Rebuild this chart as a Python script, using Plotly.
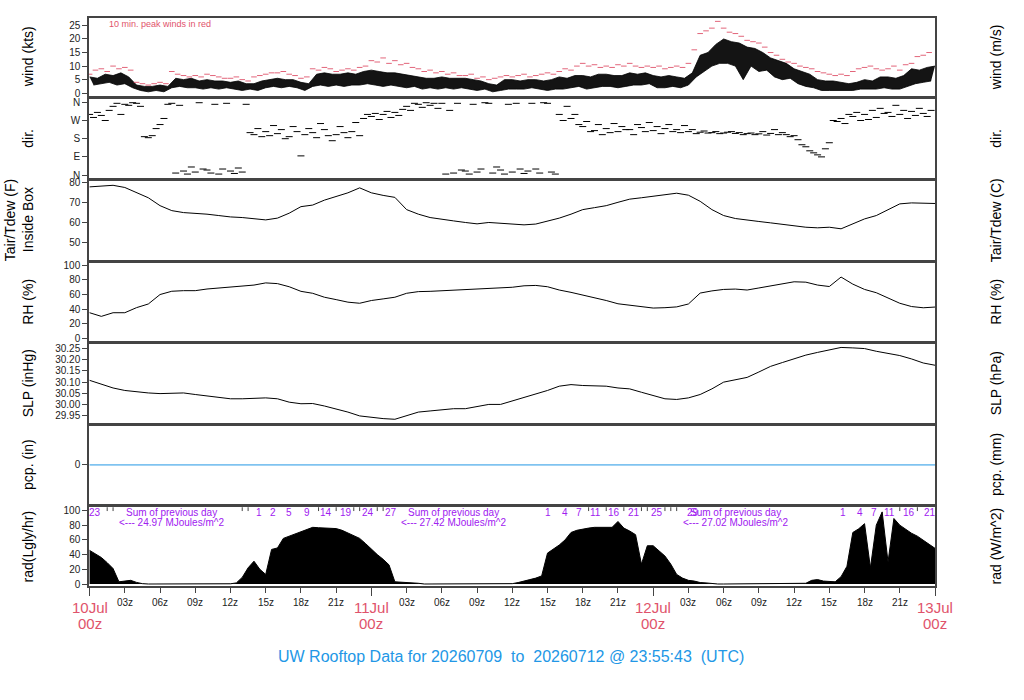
import plotly.graph_objects as go

W, H = 1024, 700
FONT = "Liberation Sans, Arial, Helvetica, sans-serif"
PINK = "#DF536B"
PURPLE = "#A020F0"
BLUE = "#2297E6"
FRAME = "#444444"

# ---------------- data (hours since 10 Jul 00z) ----------------
hours = list(range(73))

wind_kts = [6.0, 3.0, 5.5, 3.5, 7.0, 4.0, 6.5, 3.0, 7.5, 3.5, 6.0, 2.0,
            3.0, 1.0, 2.5, 0.5, 2.5, 1.0, 3.0, 0.5, 2.5, 2.0, 5.5, 2.5,
            5.0, 2.0, 5.5, 2.0, 4.5, 1.5, 5.0, 2.0, 4.5, 1.5, 4.5, 2.0,
            4.0, 1.5, 4.5, 1.0, 3.5, 1.5, 3.5, 1.0, 4.5, 2.0, 5.0, 2.5,
            5.5, 2.0, 5.0, 2.5, 5.0, 2.0, 4.0, 1.0, 3.5, 2.5, 7.0, 3.0,
            7.5, 2.5, 7.0, 3.0, 7.0, 2.5, 7.5, 3.0, 7.0, 3.0, 8.0, 3.5,
            8.5, 3.0, 8.0, 2.5, 7.5, 3.0, 7.5, 2.5, 7.0, 2.0, 6.5, 2.5,
            6.0, 1.5, 5.5, 2.0, 5.5, 1.5, 6.0, 2.0, 5.5, 1.5, 5.5, 2.0,
            5.5, 1.5, 5.0, 1.0, 4.5, 1.5, 3.5, 0.5, 3.0, 1.0, 5.0, 1.5,
            5.0, 1.5, 4.5, 1.5, 5.0, 2.0, 5.0, 1.5, 4.5, 1.0, 5.0, 1.5,
            6.0, 1.5, 5.5, 2.0, 6.5, 2.5, 6.5, 1.5, 6.0, 2.0, 7.0, 2.5,
            7.0, 2.5, 6.5, 2.0, 6.5, 2.5, 7.5, 3.0, 7.0, 3.0, 7.5, 3.5,
            6.5, 2.0, 6.0, 2.0, 6.5, 2.5, 6.0, 2.0, 5.5, 3.0, 7.5, 6.0,
            14.0, 8.0, 15.0, 10.0, 18.0, 11.0, 20.0, 11.0, 19.0, 10.0, 18.5, 5.0,
            17.0, 10.0, 16.5, 8.0, 15.0, 8.5, 13.0, 6.0, 12.0, 5.0, 11.0, 5.5,
            9.0, 3.5, 8.0, 2.5, 7.0, 2.0, 5.0, 1.0, 4.5, 1.0, 4.5, 1.0,
            4.0, 1.0, 3.5, 1.0, 4.0, 1.5, 5.0, 1.5, 4.5, 1.5, 6.0, 2.0,
            6.0, 1.5, 5.5, 1.5, 6.5, 2.5, 9.0, 3.5, 8.5, 4.0, 9.5, 4.5,
            10.0]

# 10-min peak winds (kts), sampled every half hour
wind_peak = [7, 8.5, 9, 8, 10, 9, 9.5, 8.5,
             4, 3.5, 3, 3.5, 4, 3.5,
             8, 7, 6.5, 6, 6.5, 6, 7, 6.5, 6, 5.5, 5.5, 6, 5, 4.5,
             6, 6.5, 7, 7.5, 7.5, 8, 7, 6.5, 5.5, 6,
             9, 8.5, 9.5, 9, 8, 8.5, 9, 8.5, 9.5, 10,
             12, 11.5, 13, 11, 12, 10.5, 11, 9.5,
             9, 8, 8.5, 7.5, 8, 7, 7.5, 6.5,
             6.5, 7, 5.5, 6, 5, 5.5, 6, 6.5,
             6, 6.5, 7, 6, 6.5, 7, 7.5, 7,
             8, 9, 8.5, 10, 11, 10, 10.5, 9.5,
             10, 9.5, 10.5, 10, 11, 10, 9.5, 10,
             9.5, 10, 9, 9.5, 10, 9.5, 11, 16,
             22, 23, 24, 26.5, 24, 22.5, 22, 21,
             19.5, 19, 18.5, 17, 15, 14, 12.5, 11.5,
             11, 10, 9.5, 9, 8, 7.5, 7, 6.5,
             7, 6.5, 8, 9, 9.5, 10, 9, 8.5,
             9, 10, 8.5, 10.5, 11, 13.5, 14, 15]

# wind direction (deg), three samples per hour
wind_dir = [300, 285, 310, 295, 270, 320, 340, 355, 300, 350, 345, 358,
            355, 340, 190, 185, 195, 230, 250, 280, 350, 355, 10, 345,
            20, 5, 40, 15, 358, 30, 25, 10, 350, 5, 30, 355,
            20, 8, 35, 15, 350, 210, 200, 230, 190, 215, 195, 245,
            205, 225, 180, 190, 240, 215, 95, 200, 230, 210, 185, 255,
            225, 195, 170, 200, 240, 210, 185, 215, 260, 195, 280, 300,
            290, 305, 275, 300, 315, 285, 310, 295, 325, 340, 320, 355,
            350, 335, 358, 345, 355, 330, 355, 5, 320, 10, 355, 25,
            20, 5, 350, 15, 30, 358, 355, 10, 40, 25, 5, 350,
            15, 355, 30, 8, 20, 355, 30, 10, 358, 355, 15, 5,
            300, 270, 340, 280, 300, 250, 240, 265, 215, 220, 250, 200,
            230, 210, 255, 215, 240, 225, 225, 200, 250, 235, 215, 260,
            220, 240, 205, 230, 250, 215, 225, 210, 245, 215, 225, 205,
            212, 218, 208, 210, 215, 205, 208, 212, 215, 206, 210, 200,
            205, 208, 200, 204, 215, 198, 206, 225, 200, 210, 200, 190,
            195, 175, 150, 140, 120, 110, 100, 90, 130, 160, 270, 265,
            280, 255, 300, 290, 310, 270, 300, 275, 320, 285, 330, 305,
            310, 290, 345, 300, 320, 280, 315, 295, 330, 305, 290, 320]

temp_f = [78.0, 78.3, 78.8, 77.7, 75.2, 72.5, 68.5, 66.0, 65.0, 64.7,
          64.2, 63.5, 62.8, 62.5, 61.8, 61.3, 62.2, 64.7, 68.0, 68.8,
          71.3, 73.0, 75.0, 77.5, 75.0, 73.7, 72.7, 66.5, 64.2, 62.5,
          61.8, 60.8, 60.0, 59.3, 60.0, 59.7, 59.2, 58.8, 59.2, 60.8,
          62.2, 64.2, 66.5, 67.5, 68.5, 70.2, 71.8, 72.5, 73.3, 73.8,
          74.8, 73.8, 70.7, 66.5, 63.5, 62.0, 61.1, 60.5, 59.8, 59.0,
          58.5, 57.6, 57.3, 57.6, 56.8, 59.5, 61.8, 63.5, 66.3, 69.4,
          69.9, 69.8, 69.6]

rh = [35, 30, 35, 35, 42, 47, 60, 64.5, 65.3, 65.3,
      67.6, 69, 70.7, 72, 73, 76, 75, 70.7, 64.4, 61.7,
      56.3, 53, 49.5, 48, 51.8, 54, 56.3, 61.7, 64, 64.4,
      65.3, 66.2, 66.2, 67.6, 68.5, 69, 70, 72, 72.5, 70.7,
      66.2, 63, 59.5, 56.3, 51.8, 47.3, 45, 42.8, 41.4, 41.9,
      43, 47, 62, 65, 67, 67.5, 66.2, 69, 72, 74.5,
      77.5, 77, 73, 71, 84, 74.3, 67, 62.5, 55, 48,
      43.5, 41.8, 42.8]

slp = [30.108, 30.092, 30.074, 30.063, 30.057, 30.052, 30.049, 30.052, 30.052, 30.045,
       30.038, 30.032, 30.026, 30.026, 30.029, 30.030, 30.026, 30.011, 30.004, 30.005,
       29.994, 29.982, 29.967, 29.950, 29.943, 29.938, 29.935, 29.950, 29.967, 29.972,
       29.976, 29.982, 29.982, 29.991, 30.001, 30.001, 30.016, 30.030, 30.045, 30.063,
       30.082, 30.089, 30.085, 30.082, 30.082, 30.074, 30.070, 30.055, 30.041, 30.026,
       30.023, 30.030, 30.045, 30.070, 30.100, 30.112, 30.121, 30.145, 30.170, 30.187,
       30.205, 30.220, 30.232, 30.242, 30.254, 30.252, 30.249, 30.237, 30.228, 30.218,
       30.203, 30.185, 30.175]

pcp = [0.0] * 73

# solar radiation (Langley/hr), every half hour
rad = [45.7, 41, 36, 29, 21, 3, 3.6, 5, 2.2, 0.5,
       0, 0, 0, 0, 0, 0, 0, 0, 0, 0, 0, 0, 0, 0,
       0.3, 1.5, 9, 22, 31, 20, 13, 47, 49, 62,
       65, 69, 72, 75, 77, 76.5, 76, 76, 75.3, 73,
       69.5, 66, 62, 55, 47, 40, 33.6, 26, 3, 2.5,
       3, 2, 1, 0, 0, 0, 0, 0, 0, 0, 0, 0, 0, 0, 0, 0, 0, 0,
       0.5, 2, 3.5, 6, 8, 11, 42, 47, 53, 60,
       70, 73, 75, 76, 77, 77, 77.5, 77, 85, 76,
       72, 67, 27, 52, 52, 45, 38, 27, 13, 8,
       5, 4, 2, 1.5, 0.5, 0, 0, 0, 0, 0, 0, 0, 0, 0, 0, 0, 0, 0,
       0, 0.5, 1, 5, 6, 4, 3, 3, 10, 24,
       70, 75, 82, 22, 80, 98, 30, 89, 80, 74,
       69, 65, 60, 54, 48.5]

cum_hours = [0.5, 14.4, 15.6, 17.0, 18.5, 20.1, 21.8, 23.7, 25.7,
             39.0, 40.5, 41.7, 43.1, 44.7, 46.4, 48.3, 51.4,
             64.2, 65.6, 66.8, 68.1, 69.8, 71.6]
cum_labels = ["23", "1", "2", "5", "9", "14", "19", "24", "27",
              "1", "4", "7", "11", "16", "21", "25", "29",
              "1", "4", "7", "11", "16", "21"]
sum_hours = [7, 31, 55]
sum_values = ["24.97", "27.42", "27.02"]

tick3_hours = [3, 6, 9, 12, 15, 18, 21, 27, 30, 33, 36, 39, 42, 45,
               51, 54, 57, 60, 63, 66, 69]
tick3_labels = ["03z", "06z", "09z", "12z", "15z", "18z", "21z"] * 3
day_hours = [0, 24, 48, 72]
day_labels = ["10Jul", "11Jul", "12Jul", "13Jul"]

left_titles = ["wind (kts)", "dir.", None, "RH (%)", "SLP (inHg)", "pcp. (in)", "rad(Lgly/hr)"]
right_titles = ["wind (m/s)", "dir.", "Tair/Tdew (C)", "RH (%)", "SLP (hPa)", "pcp. (mm)", "rad (W/m^2)"]

# ---------------- geometry ----------------
X0, X1 = 89, 935
TOPS = [14 + 82.5 * i for i in range(7)]
PH = 79.5


def ydom(i):
    return [1 - (TOPS[i] + PH) / H, 1 - TOPS[i] / H]


def px_y(p):
    return 1 - p / H


left = [
    dict(range=[-1.2, 27.8], tickvals=[0, 5, 10, 15, 20, 25]),
    dict(range=[-14.4, 374.4], tickvals=[0, 90, 180, 270, 360], ticktext=["N", "E", "S", "W", "N"]),
    dict(range=[41.25, 81], tickvals=[50, 60, 70, 80]),
    dict(range=[-4, 104], tickvals=[0, 20, 40, 60, 80, 100]),
    dict(range=[29.92, 30.269], tickvals=[29.95, 30.0, 30.05, 30.1, 30.15, 30.2, 30.25], tickformat=".2f"),
    dict(range=[-1, 1], tickvals=[0]),
    dict(range=[-2.4, 104.4], tickvals=[0, 20, 40, 60, 80, 100]),
]
KT2MS = 0.514444
right = [
    dict(range=[-1.2 * KT2MS, 27.8 * KT2MS], tickvals=[0, 5, 10], ticklabelstandoff=9),
    dict(range=[-14.4, 374.4], tickvals=[0, 90, 180, 270, 360], ticktext=["N", "E", "S", "W", "N"]),
    dict(range=[(41.25 - 32) / 1.8, (81 - 32) / 1.8], tickvals=[10, 15, 20, 25]),
    dict(range=[-4, 104], tickvals=[0, 20, 40, 60, 80, 100]),
    dict(range=[29.92 * 33.8639, 30.269 * 33.8639], tickvals=[1014, 1016, 1018, 1020, 1022, 1024]),
    dict(range=[-25.4, 25.4], tickvals=[0], ticklabelstandoff=9),
    dict(range=[-2.4 * 11.622, 104.4 * 11.622], tickvals=[0, 200, 400, 600, 800, 1000, 1200]),
]

layout = dict(
    width=W, height=H, margin=dict(l=0, r=0, t=0, b=0),
    paper_bgcolor="white", plot_bgcolor="white", showlegend=False,
    font=dict(family=FONT, size=10, color="#222222"),
)

for i in range(7):
    n = i + 1
    xa = dict(domain=[X0 / W, X1 / W], anchor=f"y{n}", range=[-0.05, 72.0],
              showline=True, mirror=True, linecolor=FRAME, linewidth=1.5,
              showgrid=False, zeroline=False, showticklabels=False, ticks="")
    if i == 6:
        xa.update(ticks="outside", tickvals=day_hours, ticklen=8, tickcolor=FRAME, tickwidth=1,
                  minor=dict(ticks="outside", tickvals=tick3_hours, ticklen=5, tickcolor=FRAME, tickwidth=1))
    else:
        xa["matches"] = "x7"
    layout[f"xaxis{n}"] = xa
    ya = dict(domain=ydom(i), anchor=f"x{n}", side="left", showline=True, mirror=True,
              linecolor=FRAME, linewidth=1.5, showgrid=False, zeroline=False,
              ticks="outside", ticklen=5, tickcolor=FRAME, tickfont=dict(size=10, color="#222"))
    ya.update(left[i])
    layout[f"yaxis{n}"] = ya
    yr = dict(overlaying=f"y{n}", anchor=f"x{n}", side="right", showline=False, showgrid=False,
              zeroline=False, ticks="outside", ticklen=5, tickcolor=FRAME,
              tickfont=dict(size=10, color="#222"))
    yr.update(right[i])
    layout[f"yaxis{n + 7}"] = yr

fig = go.Figure(layout=layout)

# wind: envelope of the alternating highs/lows, filled black
wx = [k / 3 for k in range(len(wind_kts))]
fig.add_trace(go.Scatter(x=wx[0::2], y=wind_kts[0::2], mode="lines",
                         line=dict(color="black", width=0.8), xaxis="x1", yaxis="y1"))
fig.add_trace(go.Scatter(x=wx[1::2], y=wind_kts[1::2], mode="lines",
                         line=dict(color="black", width=0.8),
                         fill="tonexty", fillcolor="#141414", xaxis="x1", yaxis="y1"))
fig.add_trace(go.Scatter(x=[0.5 * k for k in range(len(wind_peak))], y=wind_peak, mode="markers",
                         marker=dict(symbol="line-ew", size=4, line=dict(color=PINK, width=0.9)),
                         xaxis="x1", yaxis="y1"))
# direction
fig.add_trace(go.Scatter(x=[k / 3 for k in range(len(wind_dir))], y=wind_dir, mode="markers",
                         marker=dict(symbol="line-ew", size=5, line=dict(color="black", width=1)),
                         xaxis="x2", yaxis="y2"))
# temperature, RH, SLP, pcp
fig.add_trace(go.Scatter(x=hours, y=temp_f, mode="lines", line=dict(color="black", width=1),
                         xaxis="x3", yaxis="y3"))
fig.add_trace(go.Scatter(x=hours, y=rh, mode="lines", line=dict(color="black", width=1),
                         xaxis="x4", yaxis="y4"))
fig.add_trace(go.Scatter(x=hours, y=slp, mode="lines", line=dict(color="black", width=1),
                         xaxis="x5", yaxis="y5"))
fig.add_trace(go.Scatter(x=hours, y=pcp, mode="lines", line=dict(color=BLUE, width=1),
                         xaxis="x6", yaxis="y6"))
# radiation
rad_x = [0.5 * k for k in range(len(rad))]
fig.add_trace(go.Scatter(x=rad_x, y=rad, mode="lines", line=dict(color="black", width=1),
                         fill="tozeroy", fillcolor="black", xaxis="x7", yaxis="y7"))
tick_x = [x for x, v in zip(rad_x, rad) if v > 8 and min(abs(x - c) for c in cum_hours) > 0.6]
fig.add_trace(go.Scatter(x=tick_x, y=[102] * len(tick_x), mode="markers",
                         marker=dict(symbol="line-ns", size=3, line=dict(color="#444", width=1)),
                         xaxis="x7", yaxis="y7"))

ann = []
for i in range(7):
    yc = px_y(TOPS[i] + PH / 2)
    if left_titles[i]:
        ann.append(dict(text=left_titles[i], x=28 / W, y=yc, xref="paper", yref="paper",
                        textangle=-90, showarrow=False, xanchor="center", yanchor="middle",
                        font=dict(size=14, color="black")))
    ann.append(dict(text=right_titles[i], x=996 / W, y=yc, xref="paper", yref="paper",
                    textangle=-90, showarrow=False, xanchor="center", yanchor="middle",
                    font=dict(size=14, color="black")))
yc = px_y(TOPS[2] + PH / 2)
ann.append(dict(text="Tair/Tdew (F)", x=10 / W, y=yc, xref="paper", yref="paper", textangle=-90,
                showarrow=False, xanchor="center", yanchor="middle", font=dict(size=14, color="black")))
ann.append(dict(text="Inside Box", x=28 / W, y=yc, xref="paper", yref="paper", textangle=-90,
                showarrow=False, xanchor="center", yanchor="middle", font=dict(size=14, color="black")))

ann.append(dict(text="10 min. peak winds in red", x=107 / W, y=px_y(20), xref="paper", yref="paper",
                showarrow=False, xanchor="left", yanchor="middle", font=dict(size=9, color=PINK)))

for h, lab in zip(cum_hours, cum_labels):
    ann.append(dict(text=lab, x=h, y=97.8, xref="x7", yref="y7", showarrow=False,
                    xanchor="center", yanchor="middle", font=dict(size=10, color=PURPLE)))
for h, v in zip(sum_hours, sum_values):
    ann.append(dict(text="Sum of previous day", x=h, y=97.8, xref="x7", yref="y7", showarrow=False,
                    xanchor="center", yanchor="middle", font=dict(size=10, color=PURPLE)))
    ann.append(dict(text=f"&lt;--- {v} MJoules/m^2", x=h, y=83.5, xref="x7", yref="y7",
                    showarrow=False, xanchor="center", yanchor="middle",
                    font=dict(size=10, color=PURPLE)))

for h, lab in zip(tick3_hours, tick3_labels):
    ann.append(dict(text=lab, x=h, y=px_y(605.5), xref="x7", yref="paper", showarrow=False,
                    xanchor="center", yanchor="middle", font=dict(size=10, color="#222")))
for h, lab in zip(day_hours, day_labels):
    ann.append(dict(text=lab, x=h, y=px_y(610), xref="x7", yref="paper", showarrow=False,
                    xanchor="center", yanchor="middle", font=dict(size=15, color=PINK)))
    ann.append(dict(text="00z", x=h, y=px_y(627), xref="x7", yref="paper", showarrow=False,
                    xanchor="center", yanchor="middle", font=dict(size=15, color=PINK)))

ann.append(dict(text="UW Rooftop Data for 20260709\u00a0\u00a0to\u00a0\u00a020260712 @ 23:55:43\u00a0\u00a0(UTC)",
                x=511 / W, y=px_y(660), xref="paper", yref="paper", showarrow=False,
                xanchor="center", yanchor="middle", font=dict(size=16, color=BLUE)))

fig.update_layout(annotations=ann)
fig.write_html("out.html", config={"displayModeBar": False},
               post_script="document.body.style.margin='0px';document.body.style.overflow='hidden';")
